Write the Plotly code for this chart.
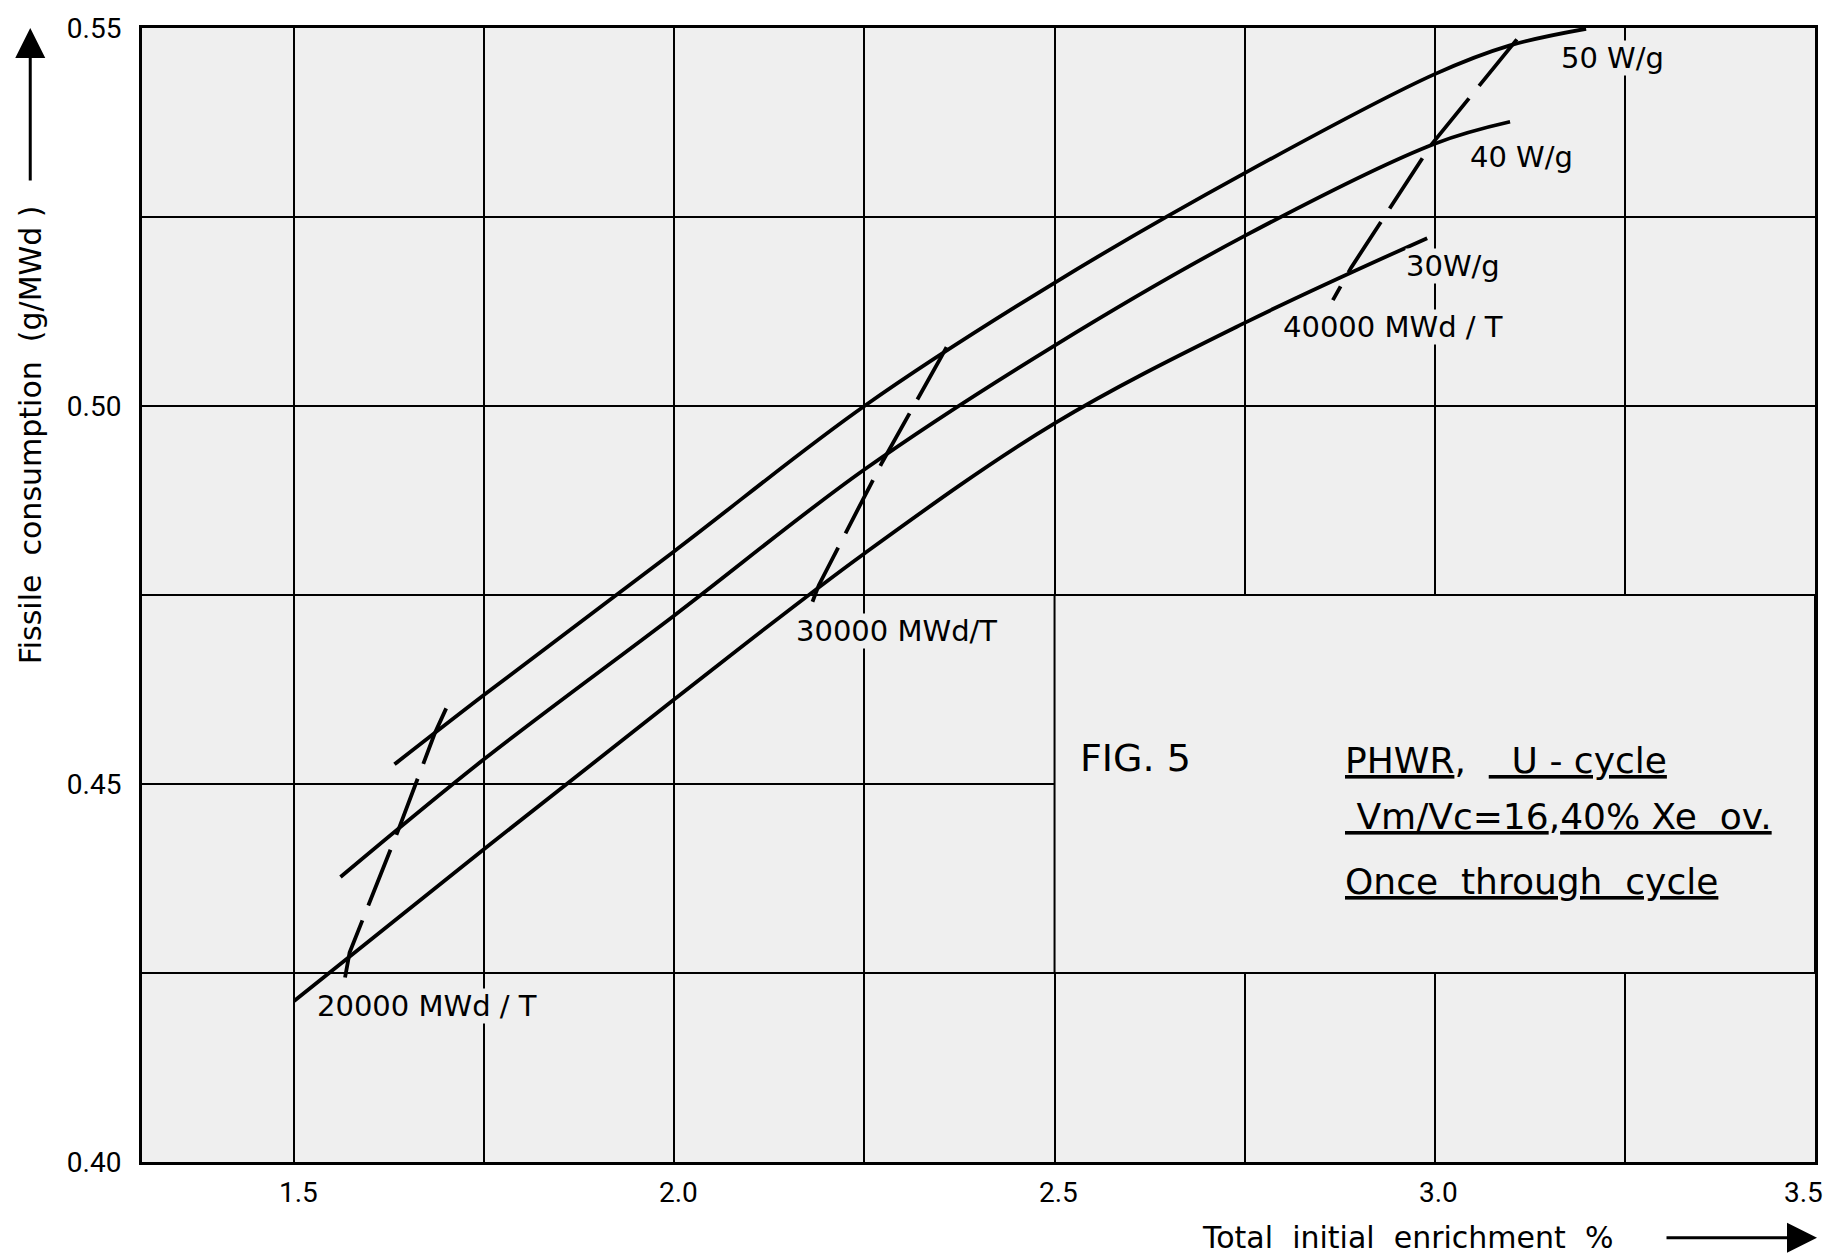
import plotly.graph_objects as go

# ---------------- data ----------------
# Power-density curves (fissile consumption vs total initial enrichment)
x_50 = [1.632, 1.75, 2.0, 2.25, 2.5, 2.75, 3.0, 3.099, 3.199]
y_50 = [0.4526, 0.4618, 0.4808, 0.500, 0.5163, 0.5308, 0.5439, 0.5477, 0.5499]

x_40 = [1.561, 1.75, 2.0, 2.25, 2.5, 2.75, 3.0, 3.099]
y_40 = [0.4377, 0.4533, 0.4723, 0.4916, 0.508, 0.5225, 0.5347, 0.5376]

x_30 = [1.50, 1.75, 2.0, 2.25, 2.5, 2.75, 2.99]
y_30 = [0.4213, 0.4414, 0.4612, 0.4805, 0.4977, 0.5110, 0.5222]

# Burn-up (dashed) lines
x_20000 = [1.700, 1.685, 1.637, 1.573, 1.567]
y_20000 = [0.4600, 0.4567, 0.4439, 0.4277, 0.4244]

x_30000 = [2.358, 2.351, 2.273, 2.190, 2.179]
y_30000 = [0.5078, 0.5065, 0.4925, 0.4763, 0.4734]

x_40000 = [3.108, 3.099, 2.995, 2.890, 2.866]
y_40000 = [0.5485, 0.5474, 0.5345, 0.5183, 0.5140]

x_tick_vals = [1.5, 2.0, 2.5, 3.0, 3.5]
x_tick_text = ["1.5", "2.0", "2.5", "3.0", "3.5"]
y_tick_vals = [0.40, 0.45, 0.50, 0.55]
y_tick_text = ["0.40", "0.45", "0.50", "0.55"]

# ---------------- styling ----------------
BG = "#efefef"
LBL_FONT = dict(family="DejaVu Sans", size=29, color="black")
TICK_FONT = dict(family="Roboto", size=28, color="black")

fig = go.Figure()

for xs, ys in [(x_50, y_50), (x_40, y_40), (x_30, y_30)]:
    fig.add_trace(go.Scatter(x=xs, y=ys, mode="lines",
                             line=dict(color="black", width=3.8, shape="spline", smoothing=1.0),
                             showlegend=False, hoverinfo="skip"))

for xs, ys in [(x_20000, y_20000), (x_30000, y_30000), (x_40000, y_40000)]:
    fig.add_trace(go.Scatter(x=xs, y=ys, mode="lines",
                             line=dict(color="black", width=3.8, dash="60px,16px"),
                             showlegend=False, hoverinfo="skip"))

annotations = []

# x tick labels
for i, (v, t) in enumerate(zip(x_tick_vals, x_tick_text)):
    last = i == len(x_tick_vals) - 1
    annotations.append(dict(x=v, y=-0.0272, xref="x", yref="paper", text=t,
                            showarrow=False, font=TICK_FONT,
                            xanchor="right" if last else "center",
                            xshift=10 if last else 4, yanchor="middle"))

# curve labels
def lab(x, y, text, font=LBL_FONT, anchor="center", bg=True):
    annotations.append(dict(x=x, y=y, xref="x", yref="y", text=text, showarrow=False,
                            font=font, xanchor=anchor, yanchor="middle",
                            bgcolor=BG if bg else None, borderpad=0))

lab(3.234, 0.5460, "50 W/g")
lab(3.114, 0.5330, "40 W/g")
lab(3.024, 0.5185, "30W/g")
lab(2.945, 0.5105, "40000 MWd / T")
lab(2.292, 0.4703, "30000 MWd/T")
lab(1.675, 0.4206, "20000 MWd / T")

BIG = dict(family="DejaVu Sans", size=38, color="black")
MID = dict(family="DejaVu Sans", size=36, color="black")
lab(2.607, 0.4535, "FIG. 5", font=BIG, bg=False)
lab(2.880, 0.4531, "<u>PHWR</u>,  <u>  U - cycle</u>", font=MID, anchor="left", bg=False)
lab(2.880, 0.4457, "<u> Vm/Vc=16</u>,<u>40% Xe  ov.</u>", font=MID, anchor="left", bg=False)
lab(2.880, 0.4371, "<u>Once  through  cycle</u>", font=MID, anchor="left", bg=False)

# axis titles
annotations.append(dict(x=-0.0668, y=0.641, xref="paper", yref="paper",
                        text="Fissile  consumption  (g/MWd )", textangle=-90,
                        showarrow=False, font=dict(family="DejaVu Sans", size=30, color="black"),
                        xanchor="center", yanchor="middle"))
annotations.append(dict(x=0.6325, y=-0.0667, xref="paper", yref="paper",
                        text="Total  initial  enrichment  %",
                        showarrow=False, font=dict(family="DejaVu Sans", size=30, color="black"),
                        xanchor="left", yanchor="middle"))

# axis arrows
annotations.append(dict(x=-0.0668, y=1.0, xref="paper", yref="paper", text="",
                        showarrow=True, ax=0, ay=154, arrowhead=2, arrowsize=2,
                        arrowwidth=3, arrowcolor="black"))
annotations.append(dict(x=1.0012, y=-0.0667, xref="paper", yref="paper", text="",
                        showarrow=True, ax=-152, ay=0, arrowhead=2, arrowsize=2,
                        arrowwidth=3, arrowcolor="black"))

fig.update_layout(
    width=1830, height=1257,
    margin=dict(l=142, r=12, t=23, b=95),
    paper_bgcolor="white", plot_bgcolor=BG,
    showlegend=False,
    annotations=annotations,
    shapes=[dict(type="rect", xref="x", yref="y", x0=2.5, x1=3.5, y0=0.425, y1=0.475,
                 fillcolor=BG, line=dict(color="black", width=2), layer="between")],
)

fig.update_xaxes(range=[1.3, 3.5], tickvals=x_tick_vals, showticklabels=False,
                 showgrid=True, gridcolor="black", gridwidth=2,
                 minor=dict(dtick=0.25, tick0=1.5, showgrid=True, gridcolor="black", gridwidth=2),
                 showline=True, linecolor="black", linewidth=3, mirror=True,
                 zeroline=False, ticks="")
fig.update_yaxes(range=[0.40, 0.55], tickvals=y_tick_vals, ticktext=y_tick_text,
                 tickfont=TICK_FONT, ticklabelstandoff=12,
                 showgrid=True, gridcolor="black", gridwidth=2,
                 minor=dict(dtick=0.025, tick0=0.40, showgrid=True, gridcolor="black", gridwidth=2),
                 showline=True, linecolor="black", linewidth=3, mirror=True,
                 zeroline=False, ticks="")

fig.write_html("out.html", config={"displayModeBar": False},
               post_script="document.body.style.margin='0';document.body.style.overflow='hidden';")
